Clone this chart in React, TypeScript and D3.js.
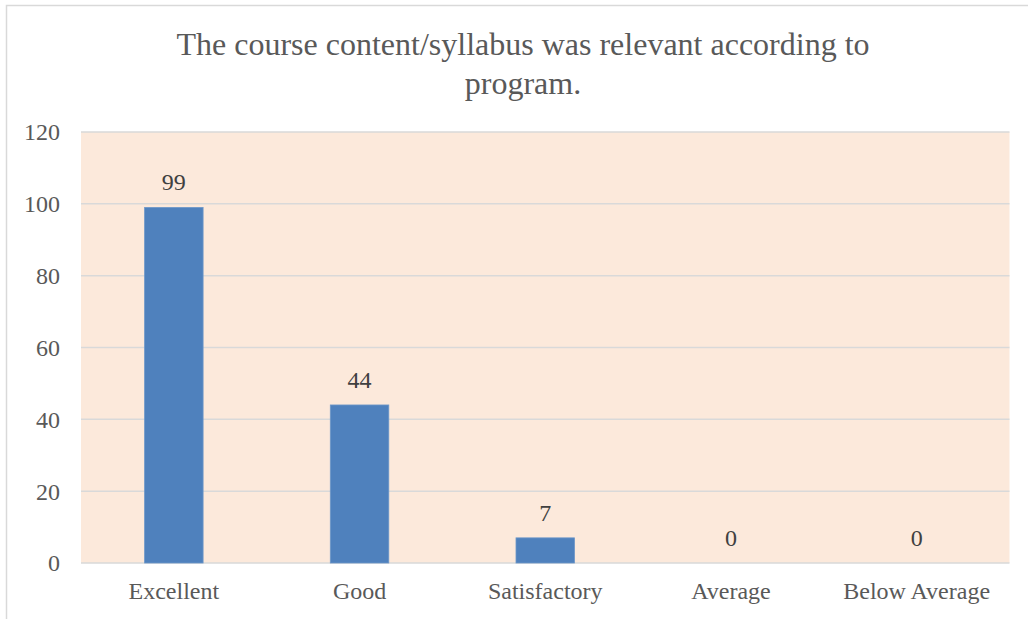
import React from "react";
import * as d3 from "d3";

const categories = ["Excellent", "Good", "Satisfactory", "Average", "Below Average"];
const values = [99, 44, 7, 0, 0];
const yTicks = [0, 20, 40, 60, 80, 100, 120];
const titleLines = ["The course content/syllabus was relevant according to", "program."];

export default function App() {
  const W = 1028, H = 619;
  const left = 81, right = 1009.5, top = 132, bottom = 563;
  const x = d3.scaleBand<string>().domain(categories).range([left, right]).paddingInner(0.685).paddingOuter(0.3425);
  const y = d3.scaleLinear().domain([0, 120]).range([bottom, top]);
  const font = "'Liberation Serif', 'Times New Roman', serif";
  const txt = "#595959";
  return (
    <svg width={W} height={H} style={{ position: "absolute", left: 0, top: 0, background: "#fff" }}>
      <rect x={6.5} y={5.5} width={W + 10} height={H + 10} fill="#fff" stroke="#d9d9d9" strokeWidth={1.5} />
      {titleLines.map((l, i) => (
        <text key={i} x={523} y={55 + i * 39} textAnchor="middle" fontFamily={font} fontSize={32} fill={txt}>{l}</text>
      ))}
      <rect x={left} y={top} width={right - left} height={bottom - top} fill="#fce9db" />
      {yTicks.map((t) => (
        <g key={t}>
          <line x1={left} x2={right} y1={y(t)} y2={y(t)} stroke="#d9d9d9" strokeWidth={1.5} />
          <text x={60} y={y(t)} dy="0.35em" textAnchor="end" fontFamily={font} fontSize={24} fill={txt}>{t}</text>
        </g>
      ))}
      {categories.map((c, i) => (
        <g key={c}>
          {values[i] > 0 && (
            <rect x={x(c)!} y={y(values[i])} width={x.bandwidth()} height={y(0) - y(values[i])} fill="#4f81bd" stroke="#6d97c9" strokeWidth={0.8} />
          )}
          <text x={x(c)! + x.bandwidth() / 2} y={y(values[i]) - 17} textAnchor="middle" fontFamily={font} fontSize={24} fill="#404040">{values[i]}</text>
          <text x={x(c)! + x.bandwidth() / 2} y={599} textAnchor="middle" fontFamily={font} fontSize={24} fill={txt}>{c}</text>
        </g>
      ))}
    </svg>
  );
}
